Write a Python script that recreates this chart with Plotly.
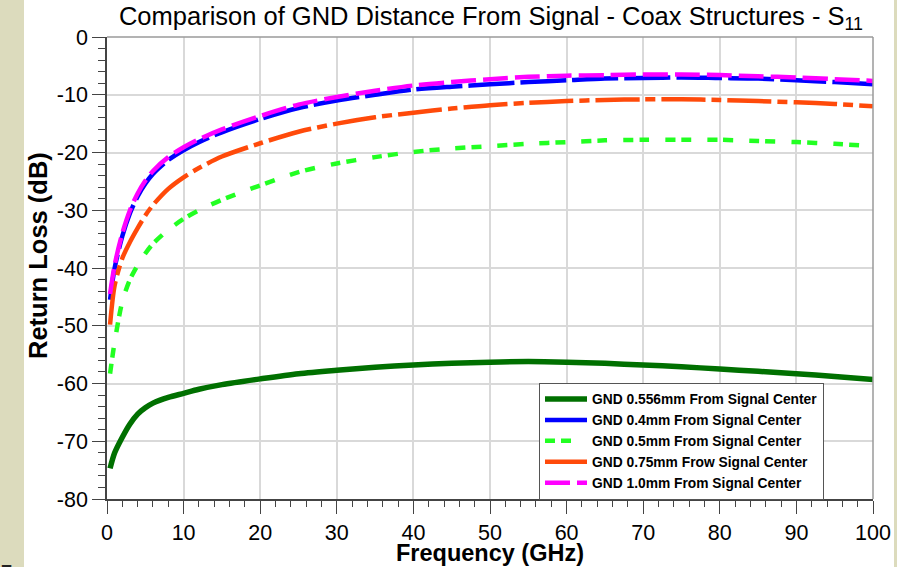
import plotly.graph_objects as go

freq = [0.4, 1, 2, 3, 4, 5, 6, 8, 10, 12, 15, 20, 25, 30, 35, 40, 45, 50,
        55, 60, 65, 70, 75, 80, 85, 90, 95, 100]

s11_0556 = [-74.7, -72.0, -69.3, -67.0, -65.3, -64.2, -63.4, -62.4, -61.7, -61.0, -60.2,
            -59.2, -58.3, -57.7, -57.2, -56.8, -56.5, -56.3, -56.2, -56.3, -56.5,
            -56.8, -57.1, -57.5, -57.9, -58.3, -58.8, -59.3]
s11_040 = [-45.5, -40.0, -34.5, -30.5, -27.6, -25.4, -23.7, -21.3, -19.6, -18.2, -16.5,
           -14.2, -12.3, -11.0, -10.0, -9.1, -8.6, -8.2, -7.8, -7.5, -7.2, -7.1,
           -7.0, -7.1, -7.2, -7.5, -7.8, -8.2]
s11_050 = [-58.3, -52.8, -45.8, -42.0, -39.5, -37.5, -35.8, -33.4, -31.5, -30.0, -28.2,
           -25.7, -23.4, -21.9, -20.8, -19.9, -19.3, -18.9, -18.5, -18.2, -17.9,
           -17.8, -17.8, -17.8, -18.0, -18.2, -18.5, -18.9]
s11_075 = [-49.8, -43.0, -38.3, -35.5, -33.1, -30.9, -29.1, -26.3, -24.3, -22.7, -20.7,
           -18.4, -16.4, -15.0, -13.9, -13.1, -12.4, -11.8, -11.4, -11.1, -10.9,
           -10.8, -10.8, -10.9, -11.1, -11.3, -11.6, -12.0]
s11_100 = [-44.5, -39.5, -34.0, -30.0, -27.1, -24.9, -23.2, -20.8, -19.1, -17.7, -16.0,
           -13.7, -11.7, -10.4, -9.3, -8.4, -7.8, -7.3, -6.9, -6.7, -6.6, -6.5,
           -6.5, -6.6, -6.8, -7.0, -7.3, -7.6]

series_names = ["GND 0.556mm From Signal Center", "GND 0.4mm From Signal Center",
                "GND 0.5mm From Signal Center", "GND 0.75mm Frow Signal Center",
                "GND 1.0mm From Signal Center"]
series_values = [s11_0556, s11_040, s11_050, s11_075, s11_100]
series_colors = ["#007000", "#0000ff", "#22ff22", "#ff4a0a", "#ff00ff"]
series_dash = ["solid", "46px,6px", "10px,6px,10px,16px", "44px,6px,10px,6px", "25px,7px"]
series_width = [5.5, 4.5, 4.5, 4.5, 4.5]

x_tickvals = [0, 10, 20, 30, 40, 50, 60, 70, 80, 90, 100]
x_ticktext = ["0", "10", "20", "30", "40", "50", "60", "70", "80", "90", "100"]
y_tickvals = [0, -10, -20, -30, -40, -50, -60, -70, -80]
y_ticktext = ["0", "-10", "-20", "-30", "-40", "-50", "-60", "-70", "-80"]

title_text = "Comparison of GND Distance From Signal - Coax Structures - S<sub>11</sub>"
x_title = "<b>Frequency (GHz)</b>"
y_title = "<b>Return Loss (dB)</b>"

FONT = "Arial, Liberation Sans, sans-serif"

fig = go.Figure()
for name, vals, col, dash, w in zip(series_names, series_values, series_colors,
                                     series_dash, series_width):
    fig.add_trace(go.Scatter(x=freq, y=vals, name=name, mode="lines",
                             line=dict(color=col, dash=dash, width=w,
                                       shape="spline", smoothing=0.8)))

W, H = 897, 567
L, R, T, B = 107, 24, 37, 68
pw = W - L - R
ph = H - T - B

def px_x(p):
    return (p - L) / pw

def px_y(p):
    return (H - B - p) / ph

axis_common = dict(showgrid=True, gridcolor="#d9d9d9", gridwidth=1.5,
                   showline=True, linecolor="#444444", linewidth=1.5,
                   ticks="outside", ticklen=13, tickcolor="#444444", tickwidth=1.2,
                   tickfont=dict(family=FONT, size=21.5, color="black"),
                   zeroline=False, automargin=False)

fig.update_layout(
    width=W, height=H, autosize=False,
    margin=dict(l=L, r=R, t=T, b=B, pad=0, autoexpand=False),
    paper_bgcolor="white", plot_bgcolor="white",
    title=dict(text=title_text, x=px_x(491), xref="paper", xanchor="center",
               y=1 - 16 / H, yref="container", yanchor="middle",
               font=dict(family=FONT, size=25.5, color="black")),
    xaxis=dict(range=[0, 100], tickmode="array", tickvals=x_tickvals, ticktext=x_ticktext,
               minor=dict(ticks="outside", ticklen=6, dtick=2, tick0=0,
                          tickcolor="#444444", showgrid=False),
               **axis_common),
    yaxis=dict(range=[-80, 0], tickmode="array", tickvals=y_tickvals, ticktext=y_ticktext,
               minor=dict(ticks="outside", ticklen=7, dtick=2, tick0=0,
                          tickcolor="#444444", showgrid=False),
               **axis_common),
    showlegend=True,
    legend=dict(x=px_x(539), y=px_y(441), xanchor="left", yanchor="middle",
                bgcolor="white", bordercolor="#555555", borderwidth=1,
                font=dict(family=FONT, size=13.8, color="black", weight="bold"),
                tracegroupgap=0, itemwidth=42),
    annotations=[
        dict(text=x_title, x=0.5, y=px_y(553), xref="paper", yref="paper",
             xanchor="center", yanchor="middle", showarrow=False,
             font=dict(family=FONT, size=23.5, color="black")),
        dict(text=y_title, x=px_x(38), y=px_y(256), xref="paper", yref="paper",
             xanchor="center", yanchor="middle", showarrow=False, textangle=-90,
             font=dict(family=FONT, size=25.5, color="black")),
        dict(text="<b>7</b>", x=px_x(6), y=px_y(559), xref="paper", yref="paper",
             xanchor="center", yanchor="top", showarrow=False,
             font=dict(family=FONT, size=20, color="#222222")),
    ],
    shapes=[
        dict(type="rect", xref="paper", yref="paper", x0=px_x(-5), x1=px_x(24),
             y0=px_y(H + 5), y1=px_y(-5), fillcolor="#dcdbbd", line=dict(width=0),
             layer="below"),
        dict(type="rect", xref="paper", yref="paper", x0=px_x(894), x1=px_x(W + 5),
             y0=px_y(H + 5), y1=px_y(-5), fillcolor="#dcdbbd", line=dict(width=0),
             layer="below"),
        dict(type="line", xref="paper", yref="paper", x0=0, x1=1, y0=1, y1=1,
             line=dict(color="#9a9a9a", width=1.5)),
        dict(type="line", xref="paper", yref="paper", x0=1, x1=1, y0=0, y1=1,
             line=dict(color="#9a9a9a", width=1.5)),
    ],
)

fig.write_html("out.html",
               config=dict(displayModeBar=False, responsive=False),
               post_script="document.body.style.margin='0px';")
